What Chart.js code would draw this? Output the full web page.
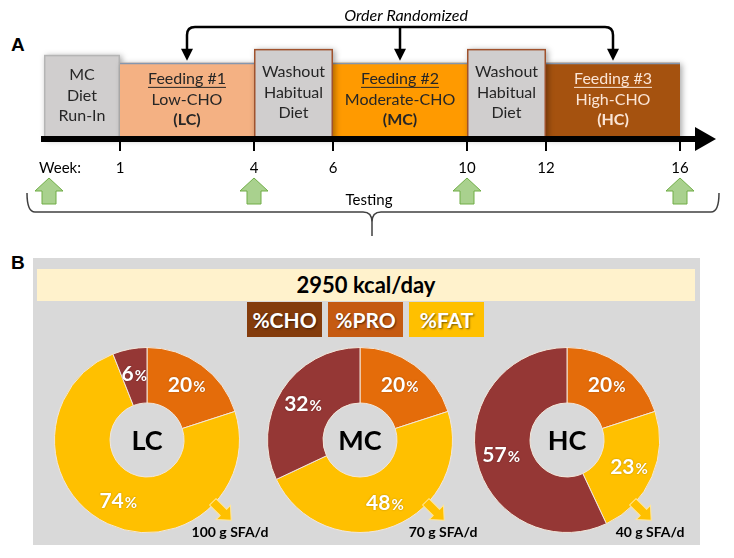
<!DOCTYPE html>
<html>
<head>
<meta charset="utf-8">
<script src="https://cdn.jsdelivr.net/npm/chart.js@4.4.1/dist/chart.umd.min.js"></script>
<style>
  html, body { margin: 0; padding: 0; background: #fff; }
  body { width: 734px; height: 558px; position: relative; overflow: hidden; font-family: Lato, 'Open Sans', sans-serif; }
  .abs { position: absolute; }
  .letter { font-family: 'Liberation Sans', Arial, sans-serif; font-weight: bold; font-size: 19px; color: #000; }
  #panelB { left: 33px; top: 258px; width: 667px; height: 287px; background: #d9d9d9; }
  #banner { left: 37px; top: 269px; width: 658px; height: 32px; background: #fff2cc; text-align: center;
            font-weight: bold; font-size: 22px; line-height: 32px; color: #000; }
  .key { top: 302px; width: 75px; height: 35px; line-height: 35px; text-align: center; font-weight: bold;
         font-size: 21px; color: #fff; text-shadow: 1px 1px 2px rgba(0,0,0,.55); }
</style>
</head>
<body>
<div class="abs letter" style="left:11px;top:34px">A</div>
<div class="abs letter" style="left:11px;top:252px">B</div>
<canvas id="timeline" class="abs" width="734" height="250" style="left:0;top:0"></canvas>
<div id="panelB" class="abs"></div>
<div id="banner" class="abs"></div>
<div id="keys"></div>
<div id="donuts"></div>
<script>
Chart.defaults.font.family = "Lato, 'Open Sans', sans-serif";
Chart.defaults.color = '#000';

// ---- data ----
const phaseStart = [0, 1, 4, 6, 10, 12];
const phaseEnd = [1, 4, 6, 10, 12, 16];
const phaseKind = ['runin', 'feed1', 'wash', 'feed2', 'wash', 'feed3'];
const phaseLines = [
  ['MC', 'Diet', 'Run-In'],
  ['Feeding #1', 'Low-CHO', '(LC)'],
  ['Washout', 'Habitual', 'Diet'],
  ['Feeding #2', 'Moderate-CHO', '(MC)'],
  ['Washout', 'Habitual', 'Diet'],
  ['Feeding #3', 'High-CHO', '(HC)']
];
const weekTicks = [1, 4, 6, 10, 12, 16];
const testingWeeks = [0, 4, 10, 16];
const randomizedPhases = [1, 3, 5];

const kcalPerDay = 2950;
const diets = ['LC', 'MC', 'HC'];
const keyLabels = ['%CHO', '%PRO', '%FAT'];
const proPct = [20, 20, 20];
const fatPct = [74, 48, 23];
const choPct = [6, 32, 57];
const sfaGrams = [100, 70, 40];

// ---- styles / layout ----
const boxStyle = {
  runin: { h: 85, fill: '#d0cece', border: '#b5b5b5', text: '#262626' },
  wash:  { h: 91, fill: '#d0cece', border: '#a0522d', text: '#262626' },
  feed1: { h: 77, fill: '#f4b183', border: '#8497b0', text: '#262626' },
  feed2: { h: 77, fill: '#ff9a00', border: '#8497b0', text: '#262626' },
  feed3: { h: 77, fill: '#a5520f', border: '#8497b0', text: '#fbe5d6' }
};
// schematic (not to scale) week axis
const anchorWeeks = [0, 1, 4, 6, 10, 12, 16, 17];
const anchorPx = [44, 120, 254, 333, 467, 546, 680, 700];
const keyColors = ['#843c0c', '#c55a11', '#ffc000'];
const sliceColors = ['#e46c0a', '#ffc000', '#953735']; // PRO, FAT, CHO
const donutCenters = [147, 360, 567];
const donutY = 440;

function interp(v, xs, ys) {
  if (v <= xs[0]) return ys[0];
  for (let i = 1; i < xs.length; i++) {
    if (v <= xs[i]) return ys[i - 1] + (v - xs[i - 1]) / (xs[i] - xs[i - 1]) * (ys[i] - ys[i - 1]);
  }
  return ys[ys.length - 1];
}
const span = anchorPx[anchorPx.length - 1] - anchorPx[0];
const anchorDec = anchorPx.map(p => (p - anchorPx[0]) / span);

class WeekScale extends Chart.LinearScale {
  getPixelForValue(value) {
    return this.getPixelForDecimal(interp(value, anchorWeeks, anchorDec));
  }
  getValueForPixel(pixel) {
    return interp(this.getDecimalForPixel(pixel), anchorDec, anchorWeeks);
  }
}
WeekScale.id = 'week';
Chart.register(WeekScale);

const FONT = "Lato, 'Open Sans', sans-serif";

const timelinePlugin = {
  id: 'timeline',
  beforeDatasetsDraw(chart) {
    const { ctx, scales: { x, y } } = chart;
    const base = y.getPixelForValue(0) - 3;
    // feedings first, washouts on top
    const order = [0, 1, 3, 5, 2, 4];
    order.forEach(i => {
      const st = boxStyle[phaseKind[i]];
      const x0 = x.getPixelForValue(phaseStart[i]);
      const x1 = x.getPixelForValue(phaseEnd[i]);
      const top = y.getPixelForValue(st.h);
      ctx.save();
      ctx.shadowColor = 'rgba(0,0,0,0.35)';
      ctx.shadowBlur = 6;
      ctx.shadowOffsetX = 2;
      ctx.shadowOffsetY = 1;
      ctx.fillStyle = st.fill;
      ctx.fillRect(x0, top, x1 - x0, base - top + 3);
      ctx.restore();
      ctx.save();
      ctx.strokeStyle = st.border;
      ctx.lineWidth = 1.5;
      if (phaseKind[i].startsWith('feed')) {
        ctx.beginPath();
        ctx.moveTo(x0, top + 0.75);
        ctx.lineTo(x1, top + 0.75);
        ctx.stroke();
      } else {
        ctx.strokeRect(x0 + 0.75, top + 0.75, x1 - x0 - 1.5, base - top + 3);
      }
      // labels
      const lines = phaseLines[i];
      const cx = (x0 + x1) / 2;
      const cy = (top + base) / 2;
      ctx.fillStyle = st.text;
      ctx.strokeStyle = st.text;
      ctx.textAlign = 'center';
      ctx.textBaseline = 'middle';
      const feed = phaseKind[i].startsWith('feed');
      lines.forEach((t, k) => {
        const ly = cy + (k - 1) * 20.5;
        ctx.font = (feed && k === 2 ? 'bold ' : '') + '16px ' + FONT;
        ctx.fillText(t, cx, ly);
        if (feed && k === 0) {
          const w = ctx.measureText(t).width;
          ctx.lineWidth = 1;
          ctx.beginPath();
          ctx.moveTo(cx - w / 2, ly + 8.5);
          ctx.lineTo(cx + w / 2, ly + 8.5);
          ctx.stroke();
        }
      });
      ctx.restore();
    });
  },
  afterDraw(chart) {
    const { ctx, scales: { x, y } } = chart;
    const lineY = y.getPixelForValue(0);
    ctx.save();
    // timeline arrowhead
    ctx.fillStyle = '#000';
    ctx.beginPath();
    ctx.moveTo(695, lineY - 12);
    ctx.lineTo(716, lineY);
    ctx.lineTo(695, lineY + 12);
    ctx.closePath();
    ctx.fill();

    // "Week:" label
    const labelY = x.top + 12 + 8 + 9;
    ctx.font = '15px ' + FONT;
    ctx.textAlign = 'center';
    ctx.textBaseline = 'middle';
    ctx.fillText('Week:', 60, labelY);

    // Order randomized bracket
    const mids = randomizedPhases.map(i => x.getPixelForValue((phaseStart[i] + phaseEnd[i]) / 2));
    const topY = 27, tipY = y.getPixelForValue(boxStyle.feed1.h) - 2, r = 8;
    ctx.strokeStyle = '#000';
    ctx.lineWidth = 2.5;
    ctx.beginPath();
    ctx.moveTo(mids[0], tipY - 10);
    ctx.lineTo(mids[0], topY + r);
    ctx.quadraticCurveTo(mids[0], topY, mids[0] + r, topY);
    ctx.lineTo(mids[2] - r, topY);
    ctx.quadraticCurveTo(mids[2], topY, mids[2], topY + r);
    ctx.lineTo(mids[2], tipY - 10);
    ctx.moveTo(mids[1], topY);
    ctx.lineTo(mids[1], tipY - 10);
    ctx.stroke();
    mids.forEach(m => {
      ctx.beginPath();
      ctx.moveTo(m - 6, tipY - 12);
      ctx.lineTo(m + 6, tipY - 12);
      ctx.lineTo(m, tipY);
      ctx.closePath();
      ctx.fill();
    });
    ctx.font = 'italic 16px ' + FONT;
    ctx.fillText('Order Randomized', (mids[0] + mids[2]) / 2 + 6, 16);

    // testing arrows
    ctx.fillStyle = '#a9d18e';
    ctx.strokeStyle = '#70ad47';
    ctx.lineWidth = 1;
    testingWeeks.forEach(w => {
      const cx = Math.max(x.getPixelForValue(w), 49);
      ctx.beginPath();
      ctx.moveTo(cx, 178);
      ctx.lineTo(cx + 14, 191);
      ctx.lineTo(cx + 7, 191);
      ctx.lineTo(cx + 7, 204);
      ctx.lineTo(cx - 7, 204);
      ctx.lineTo(cx - 7, 191);
      ctx.lineTo(cx - 14, 191);
      ctx.closePath();
      ctx.fill();
      ctx.stroke();
    });

    // testing brace
    const L = 27, R = 719, B = 212, T = 193, M = 372;
    ctx.strokeStyle = '#404040';
    ctx.lineWidth = 1.5;
    ctx.beginPath();
    ctx.moveTo(L, T);
    ctx.quadraticCurveTo(L, B, L + 8, B);
    ctx.lineTo(M - 9, B);
    ctx.quadraticCurveTo(M, B, M, B + 10);
    ctx.lineTo(M, 236);
    ctx.moveTo(M, B + 10);
    ctx.quadraticCurveTo(M, B, M + 9, B);
    ctx.lineTo(R - 8, B);
    ctx.quadraticCurveTo(R, B, R, T);
    ctx.stroke();
    ctx.fillStyle = '#000';
    ctx.font = '15px ' + FONT;
    ctx.fillText('Testing', M - 3, 200);
    ctx.restore();
  }
};

new Chart(document.getElementById('timeline'), {
  type: 'scatter',
  data: { datasets: [] },
  options: {
    responsive: false,
    animation: false,
    layout: { padding: { left: 44, right: 34, top: 40, bottom: 65 } },
    plugins: { legend: { display: false }, tooltip: { enabled: false } },
    scales: {
      x: {
        type: 'week',
        min: 0,
        max: 17,
        afterBuildTicks: s => { s.ticks = weekTicks.map(v => ({ value: v })); },
        border: { display: true, color: '#000', width: 6, z: 1 },
        grid: { drawOnChartArea: false, tickLength: 12, color: '#000', lineWidth: 2 },
        ticks: { color: '#000', font: { size: 15 }, padding: 8, autoSkip: false, maxRotation: 0 }
      },
      y: { min: 0, max: 100, display: false }
    }
  },
  plugins: [timelinePlugin]
});

// ---- panel B ----
document.getElementById('banner').textContent = kcalPerDay + ' kcal/day';
const keyLeft = [247, 328, 409];
keyLabels.forEach((t, i) => {
  const d = document.createElement('div');
  d.className = 'abs key';
  d.style.left = keyLeft[i] + 'px';
  d.style.background = keyColors[i];
  d.textContent = t;
  document.getElementById('keys').appendChild(d);
});

const sliceLabels = {
  id: 'sliceLabels',
  afterDatasetsDraw(chart, args, opts) {
    const ctx = chart.ctx;
    const meta = chart.getDatasetMeta(0);
    const vals = chart.data.datasets[0].data;
    let cx = 0, cy = 0;
    ctx.save();
    meta.data.forEach((arc, i) => {
      const p = arc.getProps(['startAngle', 'endAngle', 'innerRadius', 'outerRadius', 'x', 'y'], true);
      cx = p.x; cy = p.y;
      const mid = (p.startAngle + p.endAngle) / 2;
      const rr = p.innerRadius + (p.outerRadius - p.innerRadius) * 0.55;
      const px = p.x + Math.cos(mid) * rr;
      const py = p.y + Math.sin(mid) * rr;
      const num = String(vals[i]);
      ctx.font = 'bold 21px ' + FONT;
      const w1 = ctx.measureText(num).width;
      ctx.font = 'bold 15px ' + FONT;
      const w2 = ctx.measureText('%').width;
      const sx = px - (w1 + w2 + 1) / 2;
      ctx.fillStyle = '#fff';
      ctx.textAlign = 'left';
      ctx.textBaseline = 'alphabetic';
      ctx.shadowColor = 'rgba(0,0,0,0.3)';
      ctx.shadowBlur = 2;
      ctx.font = 'bold 21px ' + FONT;
      ctx.fillText(num, sx, py + 7);
      ctx.font = 'bold 15px ' + FONT;
      ctx.fillText('%', sx + w1 + 1, py + 7);
    });
    ctx.shadowColor = 'transparent';
    ctx.fillStyle = '#000';
    ctx.textAlign = 'center';
    ctx.textBaseline = 'middle';
    ctx.font = 'bold 27px ' + FONT;
    ctx.fillText(opts.center, cx, cy + 1);

    // SFA arrow pointing down-right
    ctx.save();
    ctx.translate(cx + 75, cy + 71);
    ctx.rotate(Math.PI / 4);
    ctx.beginPath();
    ctx.moveTo(-13, -4.5);
    ctx.lineTo(2, -4.5);
    ctx.lineTo(2, -10);
    ctx.lineTo(13, 0);
    ctx.lineTo(2, 10);
    ctx.lineTo(2, 4.5);
    ctx.lineTo(-13, 4.5);
    ctx.closePath();
    ctx.fillStyle = '#ffc000';
    ctx.fill();
    ctx.strokeStyle = '#ffe699';
    ctx.lineWidth = 1;
    ctx.stroke();
    ctx.restore();
    ctx.fillStyle = '#000';
    ctx.font = 'bold 14px ' + FONT;
    ctx.fillText(opts.sfa, cx + 83, cy + 92);
    ctx.restore();
  }
};

diets.forEach((d, i) => {
  const c = document.createElement('canvas');
  c.width = 240;
  c.height = 210;
  c.className = 'abs';
  c.style.left = (donutCenters[i] - 98) + 'px';
  c.style.top = (donutY - 98) + 'px';
  document.getElementById('donuts').appendChild(c);
  new Chart(c, {
    type: 'doughnut',
    data: {
      labels: ['%PRO', '%FAT', '%CHO'],
      datasets: [{
        data: [proPct[i], fatPct[i], choPct[i]],
        backgroundColor: sliceColors,
        borderColor: '#f2e6d9',
        borderWidth: 1
      }]
    },
    options: {
      responsive: false,
      animation: false,
      cutout: '40%',
      layout: { padding: { left: 5, top: 5, right: 49, bottom: 19 } },
      plugins: {
        legend: { display: false },
        tooltip: { enabled: false },
        sliceLabels: { center: d, sfa: sfaGrams[i] + ' g SFA/d' }
      }
    },
    plugins: [sliceLabels]
  });
});
</script>
</body>
</html>
